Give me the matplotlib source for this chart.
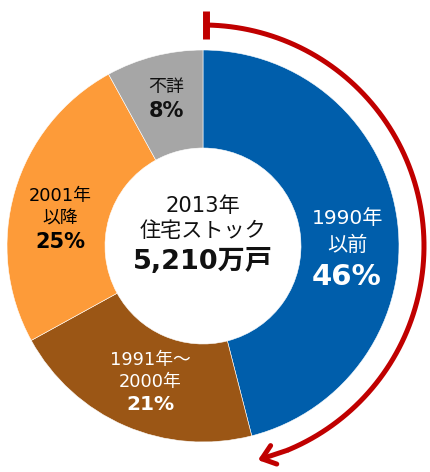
import numpy as np
import matplotlib
matplotlib.use("Agg")
import matplotlib.pyplot as plt

# data
categories = ["1990年\n以前", "1991年～\n2000年", "2001年\n以降", "不詳"]
shares = [46, 21, 25, 8]
colors = ["#005eab", "#9b5615", "#fd9b39", "#a6a6a6"]
center_title = "2013年\n住宅ストック"
center_total = "5,210万戸"

H = 472
CX, CY = 203, 246  # pixel coords (y from top)
R_OUT, R_IN = 196, 98

fig = plt.figure(figsize=(4.30, 4.72), dpi=100)
ax = fig.add_axes([0, 0, 1, 1])

def Y(py):
    return H - py

ax.pie(shares, colors=colors, startangle=90, counterclock=False,
       radius=R_OUT, center=(CX, Y(CY)),
       wedgeprops=dict(width=R_OUT - R_IN, edgecolor="white", linewidth=0.4))

ax.set_xlim(0, 430)
ax.set_ylim(0, H)
ax.set_aspect("equal")
ax.axis("off")

FAM = ["DejaVu Sans", "Noto Sans CJK JP"]

# label placements (pixel coords) -- text positions only
lab = [
    dict(x=347, ys=[218, 245], yp=277, fs=14.5, ps=21, c="white"),
    dict(x=150, ys=[360, 382], yp=405, fs=12.8, ps=14.5, c="white"),
    dict(x=60, ys=[196, 219], yp=242, fs=12.8, ps=15, c="black"),
    dict(x=166, ys=[87], yp=111, fs=13, ps=15, c="#111111"),
]
for name, val, L in zip(categories, shares, lab):
    lines = name.split("\n")
    for line, py in zip(lines, L["ys"]):
        ax.text(L["x"], Y(py), line, ha="center", va="center",
                fontsize=L["fs"], color=L["c"], family=FAM)
    ax.text(L["x"], Y(L["yp"]), f"{val}%", ha="center", va="center",
            fontsize=L["ps"], color=L["c"], family=FAM, fontweight="bold")

# centre text
t1, t2 = center_title.split("\n")
ax.text(CX, Y(206), t1, ha="center", va="center", fontsize=15.2, family=FAM, color="#111111")
ax.text(CX, Y(231), t2, ha="center", va="center", fontsize=15.2, family=FAM, color="#111111")
ax.text(CX, Y(262), center_total, ha="center", va="center", fontsize=19.5,
        family=FAM, fontweight="bold", color="#111111")

# red arc covering the first slice
red = "#c00000"
RA = 221
span = shares[0] / 100 * 360
t0 = np.deg2rad(89.1)
t_end = np.deg2rad(90 - span)
t_pre = np.deg2rad(90 - span + 8)
tt = np.linspace(t0, t_pre, 200)
ax.plot(CX + RA * np.cos(tt), Y(CY) + RA * np.sin(tt), color=red, lw=3.6,
        solid_capstyle="butt")
ax.annotate("", xy=(CX + RA * np.cos(t_end), Y(CY) + RA * np.sin(t_end)),
            xytext=(CX + RA * np.cos(t_pre), Y(CY) + RA * np.sin(t_pre)),
            arrowprops=dict(arrowstyle="->,head_length=0.9,head_width=0.7",
                            color=red, lw=3.6, shrinkA=0, shrinkB=0))
# start bar
sx = CX + RA * np.cos(t0)
ax.plot([sx, sx], [Y(11), Y(39)], color=red, lw=5, solid_capstyle="butt")

fig.savefig("out.png", dpi=100)
